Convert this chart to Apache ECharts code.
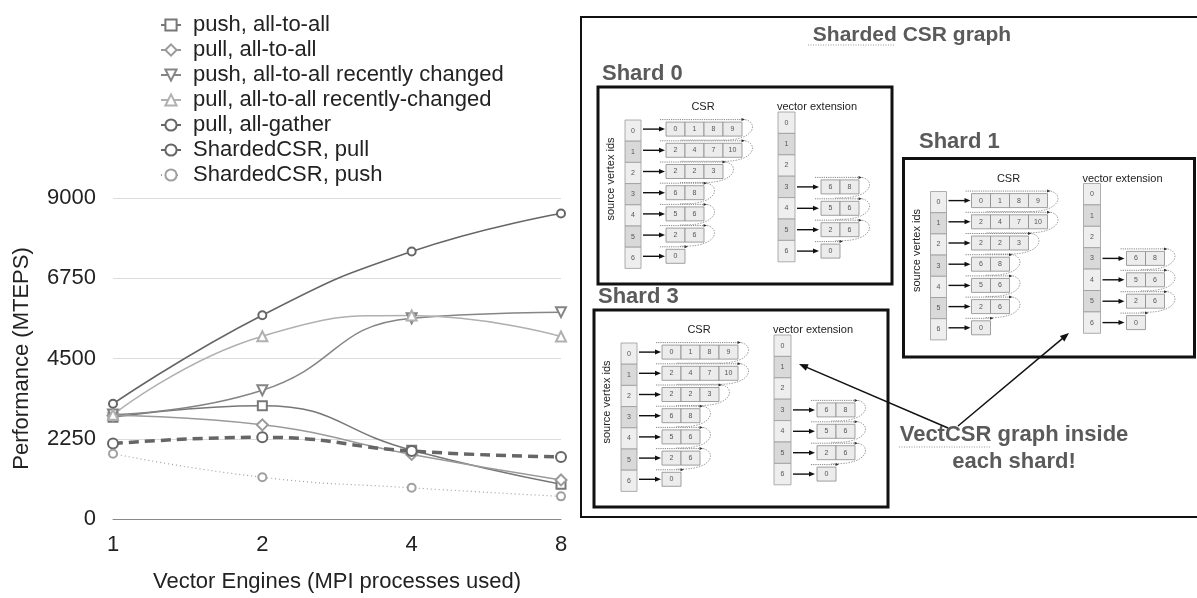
<!DOCTYPE html>
<html><head><meta charset="utf-8">
<script src="https://cdn.jsdelivr.net/npm/echarts@6/dist/echarts.min.js"></script>
<style>html,body{margin:0;padding:0;background:#fff}#c{width:1197px;height:598px}</style>
</head><body><div id="c"></div>
<script>
// ---------- chart data ----------
const categories = ['1', '2', '4', '8'];
const pushAllToAll = [2850, 3175, 1930, 975];
const pullAllToAll = [2900, 2640, 1810, 1095];
const pushRecent = [2930, 3610, 5630, 5800];
const pullRecent = [2920, 5125, 5705, 5115];
const pullAllGather = [3230, 5715, 7500, 8565];
const shardedPull = [2115, 2290, 1905, 1740];
const shardedPush = [1830, 1170, 875, 635];
const yTicks = [0, 2250, 4500, 6750, 9000];
const seriesNames = ['push, all-to-all', 'pull, all-to-all', 'push, all-to-all recently changed',
  'pull, all-to-all recently-changed', 'pull, all-gather', 'ShardedCSR, pull', 'ShardedCSR, push'];

// ---------- diagram data ----------
const srcIds = [0, 1, 2, 3, 4, 5, 6];
const csrRows = [[0, 1, 8, 9], [2, 4, 7, 10], [2, 2, 3], [6, 8], [5, 6], [2, 6], [0]];
const vecRowIds = [3, 4, 5, 6];
const vecRows = [[6, 8], [5, 6], [2, 6], [0]];
const shardNames = ['Shard 0', 'Shard 1', 'Shard 3'];
const diagramTitle = 'Sharded CSR graph';
const noteLines = ['VectCSR graph inside', 'each shard!'];

const FF = '"Liberation Sans", Arial, Helvetica, sans-serif';
const G = [];
function rect(x, y, w, h, fill, stroke, lw) { G.push({ type: 'rect', silent: true, shape: { x, y, width: w, height: h }, style: { fill, stroke, lineWidth: lw } }); }
function line(x1, y1, x2, y2, stroke, lw, dash) { G.push({ type: 'line', silent: true, shape: { x1, y1, x2, y2 }, style: { stroke, lineWidth: lw, lineDash: dash || null } }); }
function text(x, y, t, font, fill, align, valign, rot) { G.push({ type: 'text', silent: true, x, y, rotation: rot || 0, style: { text: t, font, fill, textAlign: align || 'center', textVerticalAlign: valign || 'middle' } }); }
function head(x, y, a, len, wid, fill) {
  const bx = x - len * Math.cos(a), by = y - len * Math.sin(a);
  const px = -Math.sin(a) * wid / 2, py = Math.cos(a) * wid / 2;
  G.push({ type: 'polygon', silent: true, shape: { points: [[x, y], [bx + px, by + py], [bx - px, by - py]] }, style: { fill } });
}
function arrow(x1, y1, x2, y2, lw, hl, hw, col) {
  const a = Math.atan2(y2 - y1, x2 - x1);
  line(x1, y1, x2 - hl * 0.8 * Math.cos(a), y2 - hl * 0.8 * Math.sin(a), col, lw);
  head(x2, y2, a, hl, hw, col);
}
function bez(x1, y1, c1x, c1y, c2x, c2y, x2, y2, stroke, lw, dash) {
  G.push({ type: 'bezierCurve', silent: true, shape: { x1, y1, x2, y2, cpx1: c1x, cpy1: c1y, cpx2: c2x, cpy2: c2y }, style: { stroke, lineWidth: lw, lineDash: dash, fill: null } });
}
function drawArray(x0, cy, vals, cw, ch, last) {
  const top = cy - ch / 2, bot = cy + ch / 2, x1 = x0 + cw * vals.length;
  vals.forEach((v, i) => {
    rect(x0 + i * cw, top, cw, ch, '#ececec', '#8a8a8a', 0.8);
    text(x0 + i * cw + cw / 2, cy, String(v), '7px ' + FF, '#555');
  });
  line(x0 - 6, top - 2.5, x1 + 1, top - 2.5, '#666', 0.8, [1.2, 1]);
  head(x1 + 3, top - 2.5, 0, 3.5, 3, '#333');
  if (!last) {
    bez(x1 + 3, top - 2.5, x1 + 16, top, x1 + 14, bot + 4, x1 - 18, bot + 4, '#777', 0.7, [1.5, 1.2]);
    line(x1 - 18, bot + 4, x0 + 14, bot + 4, '#777', 0.7, [1.2, 1]);
  }
}
function drawShard(bx, by, bw, bh, name, lx, ly) {
  text(lx, ly, name, 'bold 22px ' + FF, '#5a5a5a', 'left', 'middle');
  rect(bx, by, bw, bh, '#fff', '#111', 3);
  text(bx + 105, by + 20, 'CSR', '11px ' + FF, '#222');
  text(bx + 219, by + 20, 'vector extension', '11px ' + FF, '#222');
  text(bx + 13, by + 92, 'source vertex ids', '11px ' + FF, '#222', 'center', 'middle', Math.PI / 2);
  const ch = 21.2, top = by + 33;
  srcIds.forEach((id, i) => {
    rect(bx + 27, top + i * ch, 16, ch, i % 2 ? '#d9d9d9' : '#eeeeee', '#9a9a9a', 0.8);
    text(bx + 35, top + i * ch + ch / 2, String(id), '7px ' + FF, '#555');
    const cy = top + i * ch + ch / 2 - 1.5;
    arrow(bx + 45, cy, bx + 67, cy, 1.4, 6, 5, '#111');
    drawArray(bx + 68, cy, csrRows[i], 19, 14, i === csrRows.length - 1);
  });
  const vch = 21.4, vtop = by + 25;
  srcIds.forEach((id, i) => {
    rect(bx + 180, vtop + i * vch, 17, vch, i % 2 ? '#d9d9d9' : '#eeeeee', '#9a9a9a', 0.8);
    text(bx + 188.5, vtop + i * vch + vch / 2, String(id), '7px ' + FF, '#555');
  });
  vecRowIds.forEach((r, k) => {
    const cy = vtop + r * vch + vch / 2;
    arrow(bx + 199, cy, bx + 221, cy, 1.4, 6, 5, '#111');
    drawArray(bx + 223, cy, vecRows[k], 19, 14, k === vecRows.length - 1);
  });
}

// outer box
G.push({ type: 'rect', silent: true, shape: { x: 581, y: 17, width: 620, height: 500 }, style: { fill: null, stroke: '#111', lineWidth: 2 } });
text(912, 35, diagramTitle, 'bold 21px ' + FF, '#5a5a5a');
line(808, 45, 895, 45, '#999', 1.2, [1, 1.5]);
drawShard(598, 87, 294, 197, shardNames[0], 602, 74);
drawShard(903.5, 158.5, 291, 198.5, shardNames[1], 919, 142);
drawShard(594, 310, 294, 197, shardNames[2], 598, 297);
text(1014, 435, noteLines[0], 'bold 22px ' + FF, '#5a5a5a');
text(1014, 462, noteLines[1], 'bold 22px ' + FF, '#5a5a5a');
line(899, 447, 991, 447, '#999', 1.2, [1, 1.5]);
arrow(948, 428, 799, 364, 1.5, 9, 7, '#111');
arrow(958, 426, 1069, 333, 1.5, 9, 7, '#111');

function S(i, data, symbol, color, lw, size, bw, extra) {
  return Object.assign({
    name: seriesNames[i], type: 'line', data, smooth: true, symbol, symbolSize: size,
    lineStyle: { color, width: lw }, itemStyle: { color, borderColor: color, borderWidth: bw }
  }, extra || {});
}

const chart = echarts.init(document.getElementById('c'));
chart.setOption({
  animation: false,
  textStyle: { fontFamily: FF },
  grid: { left: 113, right: 636, top: 198, bottom: 74 },
  legend: {
    orient: 'vertical', left: 155, top: 9, itemWidth: 20, itemHeight: 14, itemGap: 3,
    textStyle: { fontSize: 22, lineHeight: 22, color: '#222', padding: [0, 0, 0, 7] },
    data: seriesNames
  },
  xAxis: {
    type: 'category', data: categories, boundaryGap: false,
    axisTick: { show: false }, axisLine: { lineStyle: { color: '#888', width: 1 } },
    axisLabel: { fontSize: 22, color: '#222', margin: 15 },
    name: 'Vector Engines (MPI processes used)', nameLocation: 'middle', nameGap: 52,
    nameTextStyle: { fontSize: 22, color: '#222' }
  },
  yAxis: {
    type: 'value', min: yTicks[0], max: yTicks[yTicks.length - 1], interval: yTicks[1] - yTicks[0],
    axisLine: { show: false }, axisTick: { show: false },
    axisLabel: { fontSize: 22, color: '#222', margin: 17, formatter: v => String(v) },
    splitLine: { lineStyle: { color: '#dcdcdc' } },
    name: 'Performance (MTEPS)', nameLocation: 'middle', nameGap: 80,
    nameTextStyle: { fontSize: 22, color: '#222' }
  },
  series: [
    S(0, pushAllToAll, 'emptyRect', '#777', 1.5, 9, 1.5),
    S(1, pullAllToAll, 'emptyDiamond', '#9a9a9a', 1.5, 11, 1.5),
    S(2, pushRecent, 'emptyTriangle', '#858585', 1.5, 10, 1.5, { symbolRotate: 180 }),
    S(3, pullRecent, 'emptyTriangle', '#b0b0b0', 1.5, 10, 1.5),
    S(4, pullAllGather, 'emptyCircle', '#666', 1.6, 8, 1.5),
    S(5, shardedPull, 'emptyCircle', '#666', 3.5, 10, 3, { lineStyle: { color: '#666', width: 3.5, type: [10, 6] } }),
    S(6, shardedPush, 'emptyCircle', '#a0a0a0', 1.2, 8, 1.2, { lineStyle: { color: '#a0a0a0', width: 1.2, type: [1, 3] } })
  ],
  graphic: G
});
</script></body></html>
